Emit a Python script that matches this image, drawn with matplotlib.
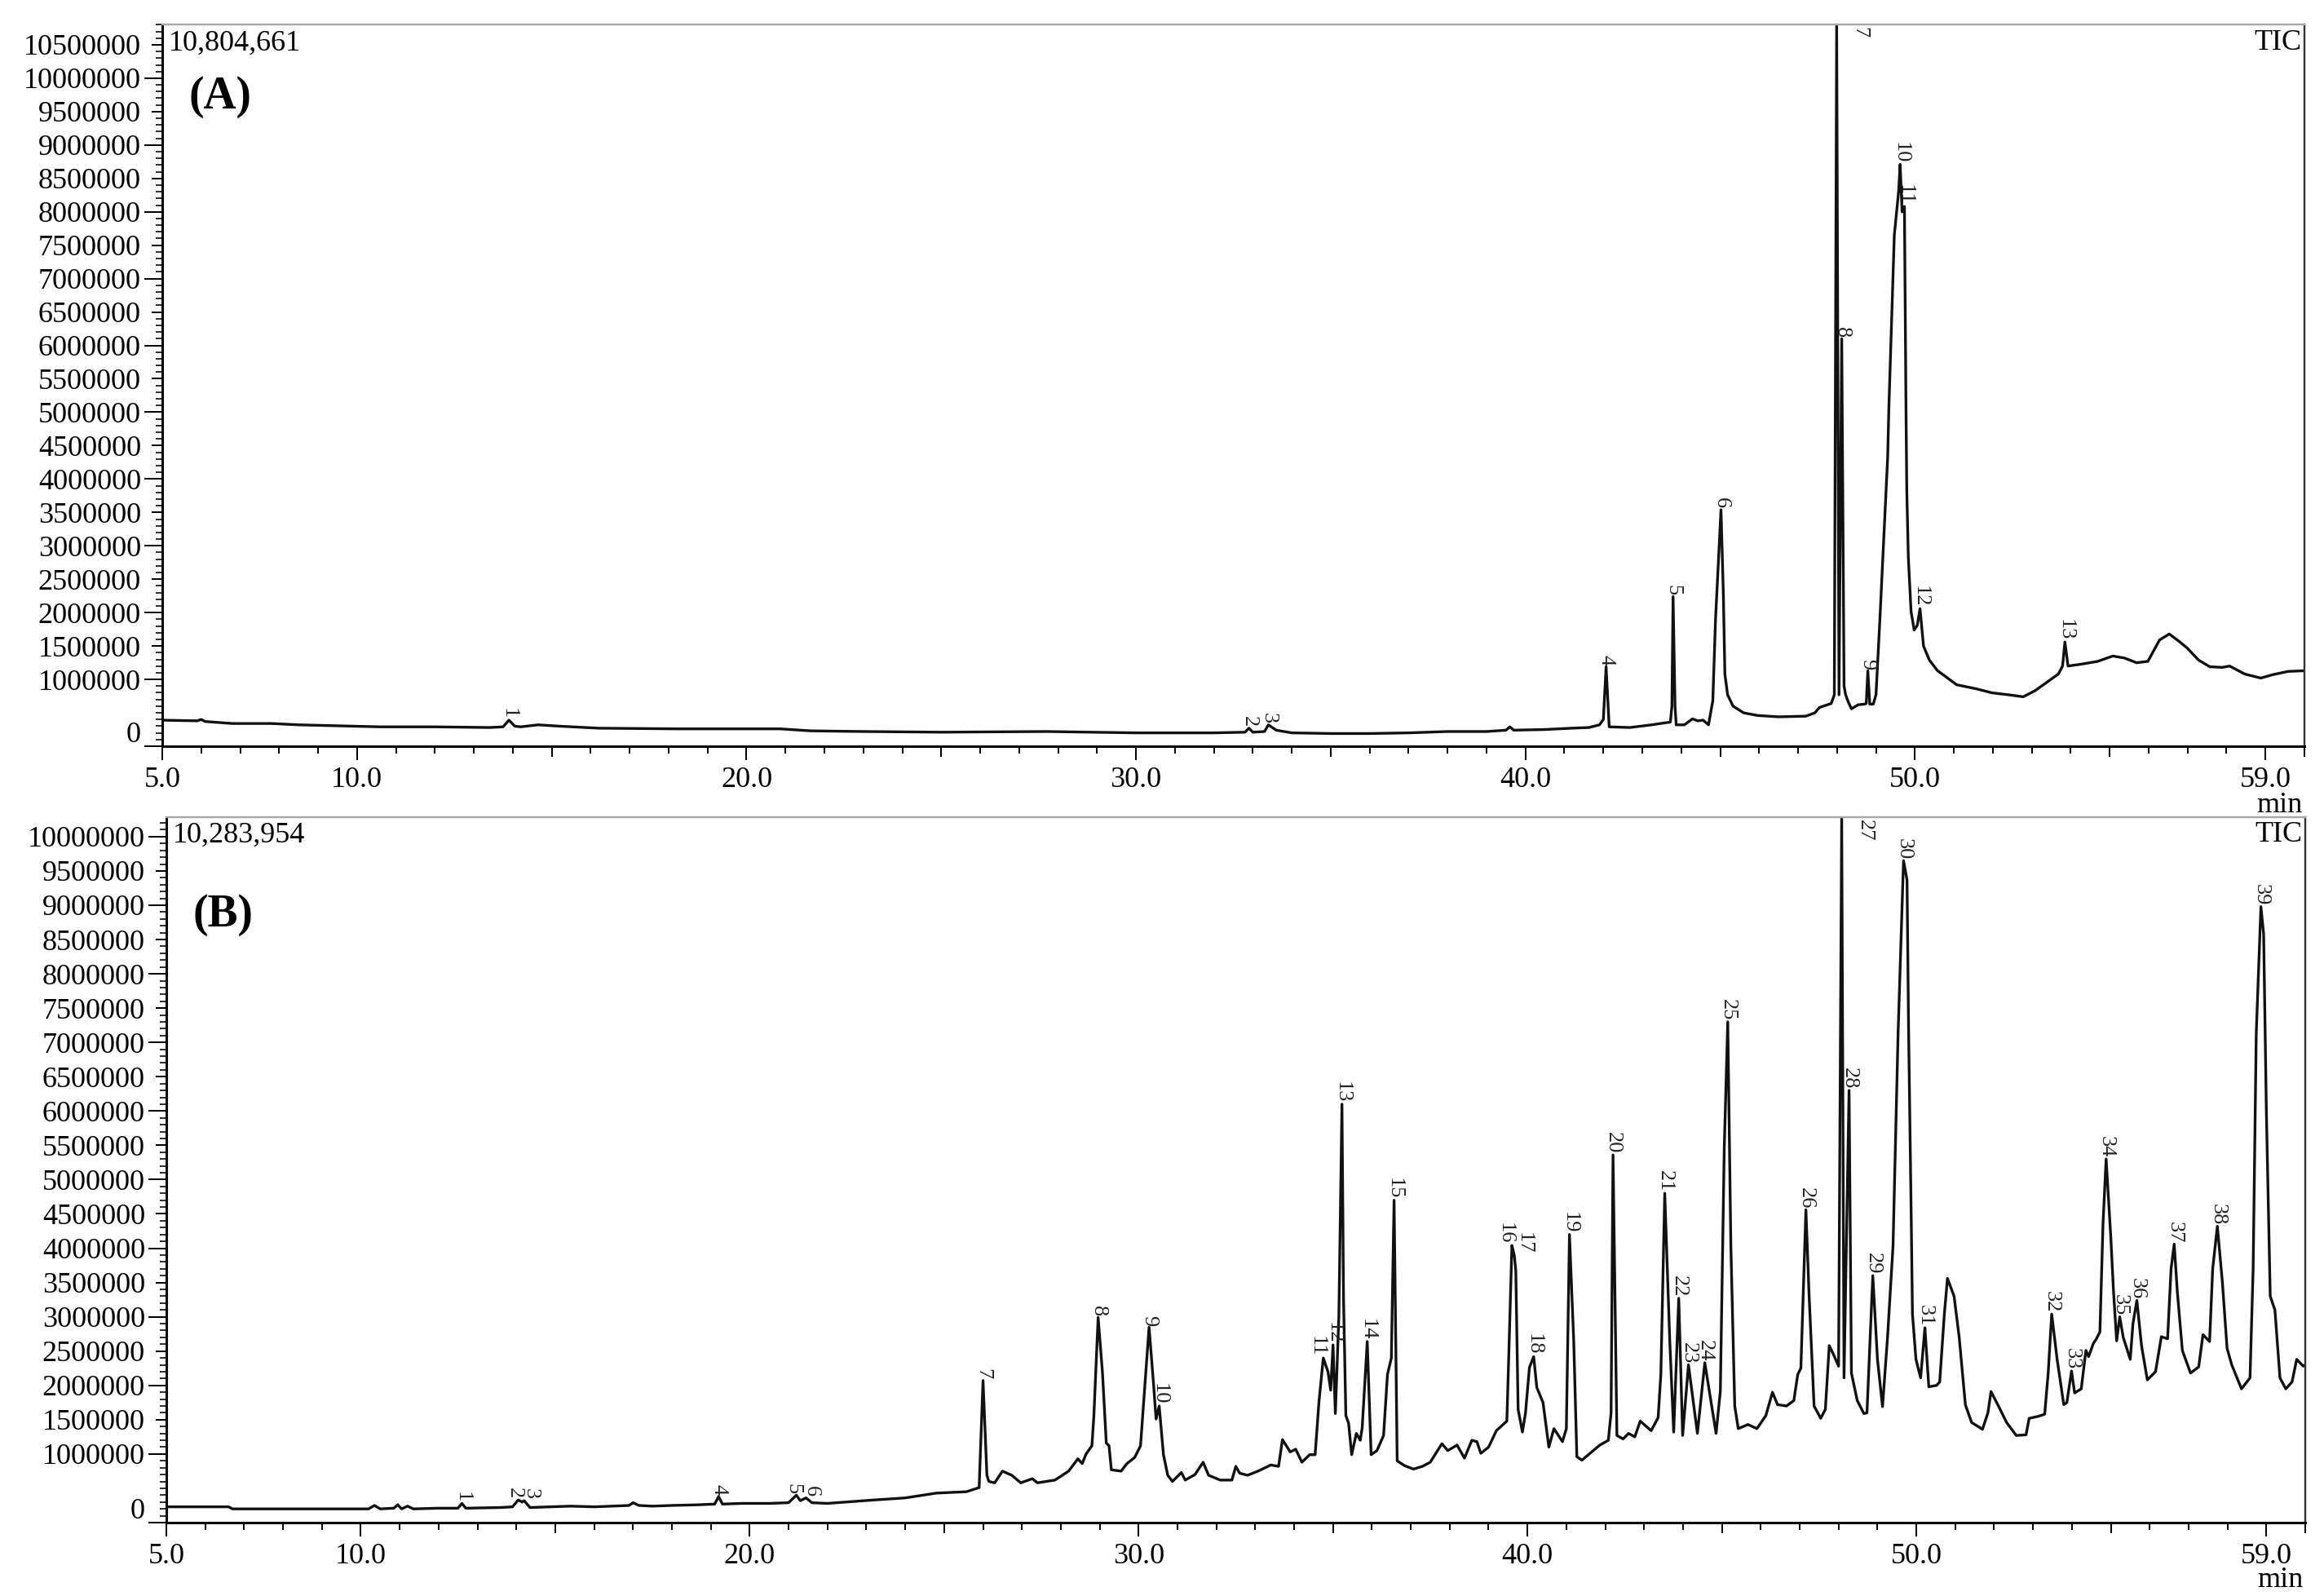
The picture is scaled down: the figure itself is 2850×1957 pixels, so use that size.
import numpy as np
import matplotlib
matplotlib.use("Agg")
import matplotlib.pyplot as plt
from matplotlib.ticker import FixedLocator, MultipleLocator
from matplotlib.transforms import ScaledTranslation

plt.rcParams["font.family"] = ["Liberation Serif", "DejaVu Serif"]

PX = 0.72  # points per pixel at dpi 100

# ---- panel A : retention time (min) / intensity (millions) ----
A_MAX = 10804661
A_T = [5.0, 5.9, 6.0, 6.1, 6.8, 7.8, 8.5, 9.9, 10.6, 12.0, 13.4, 13.75, 13.9, 14.05,
       14.2, 14.65, 15.2, 16.2, 18.2, 20.86, 21.65, 23.0, 25.0, 27.7, 30.0, 32.0,
       32.8, 32.9, 33.0, 33.3, 33.4, 33.6, 34.0, 35.0, 36.0, 37.0, 38.0, 39.0, 39.5,
       39.6, 39.7, 40.5, 41.2, 41.63, 41.9, 42.0, 42.07, 42.15, 42.68, 43.24, 43.58,
       43.72, 43.76, 43.79, 43.84, 43.87, 44.08, 44.29, 44.42, 44.56, 44.7, 44.81,
       44.88, 45.02, 45.08, 45.12, 45.19, 45.33, 45.6, 45.96, 46.5, 47.2, 47.43,
       47.55, 47.85, 47.93, 47.99, 48.05, 48.12, 48.18, 48.22, 48.29, 48.37, 48.54,
       48.7, 48.75, 48.79, 48.84, 48.93, 49.0, 49.1, 49.2, 49.3, 49.33, 49.47, 49.58,
       49.62, 49.67, 49.73, 49.75, 49.77, 49.79, 49.83, 49.9, 49.98, 50.06, 50.13,
       50.22, 50.37, 50.58, 50.77, 51.07, 51.57, 51.97, 52.4, 52.78, 53.08, 53.37,
       53.68, 53.79, 53.85, 53.93, 54.29, 54.69, 55.08, 55.38, 55.69, 55.98, 56.28,
       56.53, 56.78, 56.99, 57.28, 57.57, 57.89, 58.08, 58.47, 58.88, 59.18, 59.58,
       60.0]
A_V = [0.39, 0.38, 0.40, 0.37, 0.34, 0.34, 0.32, 0.30, 0.29, 0.29, 0.28, 0.29, 0.39,
       0.30, 0.29, 0.32, 0.30, 0.27, 0.26, 0.26, 0.23, 0.22, 0.21, 0.22, 0.20, 0.20,
       0.21, 0.27, 0.21, 0.22, 0.32, 0.24, 0.20, 0.19, 0.19, 0.20, 0.22, 0.22, 0.24,
       0.29, 0.24, 0.25, 0.27, 0.28, 0.32, 0.40, 1.19, 0.29, 0.28, 0.32, 0.35, 0.36,
       0.60, 2.24, 0.60, 0.32, 0.32, 0.41, 0.38, 0.39, 0.32, 0.68, 1.90, 3.54, 2.30,
       1.08, 0.77, 0.60, 0.50, 0.46, 0.44, 0.45, 0.50, 0.58, 0.64, 0.77, 10.804661,
       0.77, 6.10, 0.90, 0.77, 0.66, 0.56, 0.62, 0.63, 0.64, 1.13, 0.63, 0.63, 0.77,
       1.90, 3.11, 4.33, 5.06, 7.65, 8.30, 8.71, 8.00, 8.08, 6.56, 5.06, 3.84, 2.83,
       2.02, 1.74, 1.81, 2.06, 1.50, 1.29, 1.13, 1.05, 0.92, 0.86, 0.80, 0.77, 0.74,
       0.83, 0.95, 1.08, 1.20, 1.56, 1.20, 1.23, 1.27, 1.35, 1.32, 1.25, 1.27, 1.59,
       1.68, 1.57, 1.47, 1.29, 1.19, 1.18, 1.20, 1.08, 1.02, 1.07, 1.12, 1.13]
A_PEAKS = [13.9, 32.9, 33.4, 42.07, 43.79, 45.02, 47.99, 48.12, 48.79, 49.62, 49.73,
           50.13, 53.85]

# ---- panel B ----
B_MAX = 10283954
B_T = [5.0, 6.6, 6.7, 8.0, 10.2, 10.35, 10.5, 10.85, 10.95, 11.05, 11.2, 11.35, 12.0,
       12.5, 12.6, 12.7, 13.6, 13.9, 14.05, 14.15, 14.2, 14.35, 15.4, 16.0, 16.9, 17.0,
       17.15, 17.5, 18.0, 18.7, 19.1, 19.2, 19.3, 19.8, 20.5, 21.0, 21.2, 21.3, 21.45,
       21.6, 22.0, 23.2, 24.0, 24.8, 25.57, 25.9, 26.0, 26.1, 26.15, 26.3, 26.5, 26.74,
       26.97, 27.27, 27.4, 27.85, 28.2, 28.44, 28.55, 28.65, 28.8, 28.85, 28.96, 29.07,
       29.17, 29.24, 29.3, 29.55, 29.7, 29.9, 30.05, 30.16, 30.27, 30.39, 30.45, 30.53,
       30.64, 30.75, 30.87, 31.1, 31.2, 31.45, 31.66, 31.8, 32.1, 32.4, 32.5, 32.6,
       32.8, 33.07, 33.4, 33.6, 33.7, 33.9, 34.04, 34.2, 34.4, 34.54, 34.64, 34.75,
       34.87, 34.94, 35.0, 35.06, 35.15, 35.23, 35.27, 35.33, 35.4, 35.48, 35.6, 35.7,
       35.75, 35.88, 35.98, 36.13, 36.3, 36.4, 36.5, 36.57, 36.65, 36.84, 37.07, 37.3,
       37.5, 37.8, 37.95, 38.19, 38.38, 38.57, 38.7, 38.8, 39.0, 39.2, 39.47, 39.53,
       39.6, 39.66, 39.7, 39.76, 39.87, 39.95, 40.05, 40.16, 40.24, 40.4, 40.55, 40.68,
       40.9, 41.0, 41.08, 41.19, 41.27, 41.4, 41.86, 42.08, 42.15, 42.2, 42.3, 42.46,
       42.6, 42.76, 42.9, 43.18, 43.36, 43.43, 43.53, 43.66, 43.76, 43.89, 43.99,
       44.14, 44.37, 44.56, 44.85, 44.96, 45.06, 45.15, 45.23, 45.33, 45.42, 45.67,
       45.9, 46.13, 46.3, 46.43, 46.66, 46.85, 46.95, 47.03, 47.16, 47.24, 47.37,
       47.54, 47.66, 47.76, 47.87, 48.0, 48.08, 48.14, 48.27, 48.33, 48.48, 48.65,
       48.73, 48.88, 49.0, 49.13, 49.26, 49.4, 49.53, 49.67, 49.76, 49.8, 49.87, 49.9,
       49.99, 50.11, 50.22, 50.32, 50.52, 50.6, 50.72, 50.8, 50.97, 51.1, 51.26, 51.42,
       51.7, 51.84, 51.92, 52.12, 52.32, 52.57, 52.82, 52.9, 53.14, 53.3, 53.39, 53.48,
       53.62, 53.79, 53.87, 53.99, 54.07, 54.24, 54.36, 54.43, 54.55, 54.63, 54.72,
       54.8, 54.88, 55.0, 55.07, 55.15, 55.23, 55.32, 55.5, 55.57, 55.67, 55.79, 55.94,
       56.15, 56.3, 56.46, 56.55, 56.63, 56.71, 56.84, 57.05, 57.26, 57.37, 57.54,
       57.62, 57.74, 57.87, 57.99, 58.11, 58.36, 58.58, 58.66, 58.74, 58.86, 58.93,
       59.0, 59.1, 59.22, 59.35, 59.5, 59.66, 59.78, 59.95, 60.0]
B_V = [0.23, 0.23, 0.20, 0.20, 0.20, 0.25, 0.20, 0.21, 0.26, 0.20, 0.24, 0.20, 0.21,
       0.21, 0.28, 0.21, 0.22, 0.23, 0.33, 0.30, 0.32, 0.22, 0.24, 0.23, 0.25, 0.29,
       0.25, 0.24, 0.25, 0.26, 0.27, 0.38, 0.27, 0.28, 0.28, 0.29, 0.40, 0.32, 0.36,
       0.29, 0.28, 0.33, 0.36, 0.43, 0.45, 0.51, 2.07, 0.69, 0.60, 0.58, 0.75, 0.69,
       0.58, 0.64, 0.58, 0.62, 0.75, 0.93, 0.86, 1.00, 1.12, 1.55, 2.99, 2.20, 1.16,
       1.12, 0.77, 0.75, 0.86, 0.95, 1.12, 1.98, 2.85, 1.98, 1.51, 1.70, 0.99, 0.69,
       0.60, 0.73, 0.62, 0.70, 0.88, 0.69, 0.62, 0.62, 0.82, 0.72, 0.69, 0.75, 0.84,
       0.82, 1.21, 1.03, 1.07, 0.88, 0.99, 0.99, 1.77, 2.40, 2.20, 1.93, 2.59, 1.59,
       3.00, 6.10, 3.28, 1.56, 1.45, 0.99, 1.30, 1.20, 1.38, 2.64, 0.99, 1.05, 1.27,
       2.16, 2.40, 4.70, 0.90, 0.83, 0.78, 0.82, 0.88, 1.15, 1.05, 1.13, 0.94, 1.20,
       1.18, 1.01, 1.10, 1.34, 1.48, 2.64, 4.04, 3.90, 3.67, 1.65, 1.32, 1.60, 2.26,
       2.42, 1.97, 1.75, 1.10, 1.37, 1.18, 1.37, 4.20, 2.64, 0.96, 0.91, 1.13, 1.20,
       1.60, 5.36, 1.27, 1.22, 1.30, 1.25, 1.48, 1.34, 1.53, 2.16, 4.80, 2.64, 1.32,
       3.27, 1.27, 2.30, 1.30, 2.33, 1.30, 1.92, 5.45, 7.30, 4.04, 1.70, 1.37, 1.43,
       1.37, 1.56, 1.90, 1.72, 1.70, 1.78, 2.16, 2.25, 4.56, 3.34, 1.70, 1.52, 1.65,
       2.58, 2.45, 2.28, 10.283954, 2.11, 6.30, 2.18, 1.78, 1.59, 1.60, 3.60, 2.38,
       1.69, 2.71, 4.03, 7.13, 9.65, 9.37, 7.20, 4.36, 3.04, 2.38, 2.11, 2.84, 1.98,
       2.00, 2.05, 3.04, 3.56, 3.30, 2.71, 1.72, 1.46, 1.36, 1.60, 1.91, 1.69, 1.46,
       1.27, 1.28, 1.52, 1.55, 1.58, 2.18, 3.04, 2.38, 1.72, 1.75, 2.21, 1.89, 1.95,
       2.51, 2.42, 2.61, 2.68, 2.78, 4.36, 5.30, 4.16, 3.37, 2.65, 3.00, 2.70, 2.38,
       2.90, 3.24, 2.58, 2.08, 2.20, 2.71, 2.68, 3.70, 4.06, 3.37, 2.51, 2.18, 2.27,
       2.74, 2.64, 3.70, 4.32, 3.50, 2.54, 2.30, 1.95, 2.11, 3.70, 7.13, 8.98, 8.58,
       6.00, 3.30, 3.10, 2.11, 1.95, 2.05, 2.38, 2.28, 2.30]
B_PEAKS = [12.6, 14.05, 14.2, 19.2, 21.2, 21.45, 26.0, 28.96, 30.27, 30.53, 34.75,
           35.0, 35.23, 35.88, 36.57, 39.6, 39.66, 40.16, 41.08, 42.2, 43.53, 43.89,
           44.14, 44.56, 45.15, 47.16, 48.08, 48.27, 48.88, 49.67, 50.22, 53.48, 53.99,
           54.88, 55.23, 55.67, 56.63, 57.74, 58.86]

X_TICKS = [5, 10, 20, 30, 40, 50, 59]
X_LABELS = ["5.0", "10.0", "20.0", "30.0", "40.0", "50.0", "59.0"]
A_YTICKS = [0] + list(range(1000000, 10500001, 500000))
B_YTICKS = [0] + list(range(1000000, 10000001, 500000))

# sideways nudges (px) for peak numbers that would sit on top of each other
A_NUDGE = {}
B_NUDGE = {2: -5, 3: 8, 5: -4, 6: 6, 11: -8, 12: 1, 16: -8, 17: 12}

fig = plt.figure(figsize=(28.5, 19.57), dpi=100)
ax_a = fig.add_axes([199 / 2850, 1 - 915 / 1957, 2627 / 2850, 885 / 1957])
ax_b = fig.add_axes([204 / 2850, 1 - 1867 / 1957, 2623 / 2850, 865 / 1957])


def draw_panel(ax, t, v, ymax, peaks, nudge, yticks, tag, tag_y):
    t = np.asarray(t)
    v = np.asarray(v) * 1e6
    ax.plot(t, v, color="#111111", lw=2.4, solid_joinstyle="round")
    ax.set_xlim(5, 60)
    ax.set_ylim(0, ymax)

    # peak numbers
    for i, pt in enumerate(peaks, start=1):
        pv = np.interp(pt, t, v)
        dx = nudge.get(i, 0) * PX
        if pv >= ymax * 0.99:
            ax.annotate(str(i), xy=(pt, ymax), xytext=(28 * PX + dx, -3 * PX),
                        textcoords="offset points", rotation=-90, ha="center",
                        va="top", fontsize=19, color="#222222")
        else:
            ax.annotate(str(i), xy=(pt, pv), xytext=(dx, 1.5 * PX),
                        textcoords="offset points", rotation=-90, ha="center",
                        va="bottom", fontsize=19, color="#222222")

    # axes look
    for side in ("left", "bottom"):
        ax.spines[side].set_linewidth(3 * PX)
        ax.spines[side].set_color("black")
    ax.spines["right"].set_linewidth(2.4 * PX)
    ax.spines["right"].set_color("#333333")
    ax.spines["top"].set_linewidth(2.4 * PX)
    ax.spines["top"].set_color("#a8a8a8")

    ax.yaxis.set_major_locator(FixedLocator(yticks))
    ax.yaxis.set_minor_locator(MultipleLocator(100000))
    ax.set_yticklabels([str(y) for y in yticks])
    ax.xaxis.set_major_locator(FixedLocator(X_TICKS))
    ax.xaxis.set_minor_locator(MultipleLocator(1))
    ax.set_xticklabels(X_LABELS)

    ax.tick_params(axis="y", which="major", direction="out", length=13 * PX,
                   width=2 * PX, pad=13 * PX, labelsize=26)
    ax.tick_params(axis="y", which="minor", direction="out", length=8 * PX,
                   width=1.6 * PX)
    ax.tick_params(axis="x", which="major", direction="out", length=17 * PX,
                   width=2 * PX, pad=8 * PX, labelsize=26)
    ax.tick_params(axis="x", which="minor", direction="out", length=9 * PX,
                   width=2 * PX)

    # longer ticks at whole millions, "0" label lifted like the original
    for tick, loc in zip(ax.yaxis.get_major_ticks(), ax.yaxis.get_majorticklocs()):
        if loc % 1000000 == 0:
            tick.tick1line.set_markersize(22 * PX)
        if loc == 0:
            tick.label1.set_transform(tick.label1.get_transform() +
                                      ScaledTranslation(0, 18 / 100, fig.dpi_scale_trans))
    for tick, loc in zip(ax.xaxis.get_minor_ticks(), ax.xaxis.get_minorticklocs()):
        if round(loc) % 5 == 0:
            tick.tick1line.set_markersize(13 * PX)

    ax.text(0.003, 0.974, f"{ymax:,}", transform=ax.transAxes, ha="left",
            va="center", fontsize=26)
    ax.text(0.9985, 0.975, "TIC", transform=ax.transAxes, ha="right",
            va="center", fontsize=26)
    ax.text(0.9992, -0.082, "min", transform=ax.transAxes, ha="right",
            va="center", fontsize=26)
    ax.text(0.0125, tag_y, tag, transform=ax.transAxes, ha="left", va="center",
            fontsize=40, fontweight="bold")


draw_panel(ax_a, A_T, A_V, A_MAX, A_PEAKS, A_NUDGE, A_YTICKS, "(A)", 0.899)
draw_panel(ax_b, B_T, B_V, B_MAX, B_PEAKS, B_NUDGE, B_YTICKS, "(B)", 0.861)

fig.savefig("out.png", dpi=100, facecolor="white")
